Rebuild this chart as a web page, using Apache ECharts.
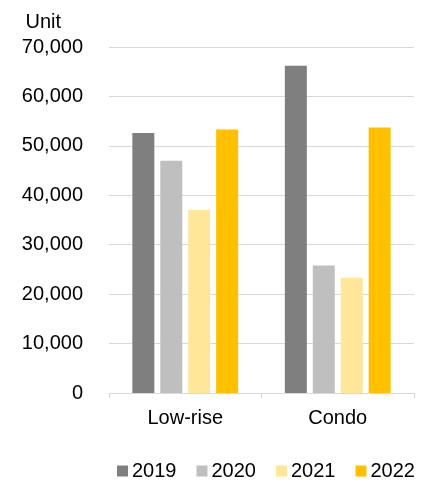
<!DOCTYPE html>
<html>
<head>
<meta charset="utf-8">
<script src="https://cdn.jsdelivr.net/npm/echarts@6/dist/echarts.min.js"></script>
<style>
  html, body { margin: 0; padding: 0; background: #ffffff; }
  #chart { width: 434px; height: 483px; }
</style>
</head>
<body>
<div id="chart"></div>
<script>
// Housing units by type, 2019–2022
const categories = ['Low-rise', 'Condo'];
const years = ['2019', '2020', '2021', '2022'];
const units2019 = [52600, 66200];
const units2020 = [47000, 25800];
const units2021 = [37000, 23300];
const units2022 = [53300, 53700];
const yTicks = { min: 0, max: 70000, interval: 10000 };

const palette = ['#7f7f7f', '#bfbfbf', '#ffe699', '#ffc000'];
const values = [units2019, units2020, units2021, units2022];
const font = '"Liberation Sans", Arial, sans-serif';

const chart = echarts.init(document.getElementById('chart'));
chart.setOption({
  animation: false,
  color: palette,
  textStyle: { fontFamily: font },
  grid: { left: 109, right: 20, top: 47, bottom: 90 },
  legend: {
    data: years,
    top: 461,
    left: 117,
    padding: 0,
    icon: 'rect',
    itemWidth: 11,
    itemHeight: 11,
    itemGap: 20,
    textStyle: { fontSize: 20, color: '#000', fontFamily: font, padding: [0, 0, 0, -1] }
  },
  xAxis: {
    type: 'category',
    data: categories,
    axisLine: { lineStyle: { color: '#d9d9d9', width: 1 } },
    axisTick: { show: true, length: 5, lineStyle: { color: '#d9d9d9' } },
    axisLabel: { fontSize: 20, color: '#000', margin: 15, fontFamily: font }
  },
  yAxis: {
    type: 'value',
    min: yTicks.min,
    max: yTicks.max,
    interval: yTicks.interval,
    name: 'Unit',
    nameLocation: 'end',
    nameGap: 15,
    nameTextStyle: { fontSize: 20, color: '#000', align: 'right', padding: [0, 48, 0, 0], fontFamily: font },
    axisLine: { show: false },
    axisTick: { show: false },
    splitLine: { lineStyle: { color: '#d9d9d9', width: 1 } },
    axisLabel: {
      fontSize: 20,
      color: '#000',
      margin: 26,
      fontFamily: font,
      formatter: v => v.toLocaleString('en-US')
    }
  },
  series: years.map((y, i) => ({
    name: y,
    type: 'bar',
    data: values[i],
    barWidth: 22,
    barGap: '27%',
    itemStyle: { color: palette[i] }
  }))
});
</script>
</body>
</html>
